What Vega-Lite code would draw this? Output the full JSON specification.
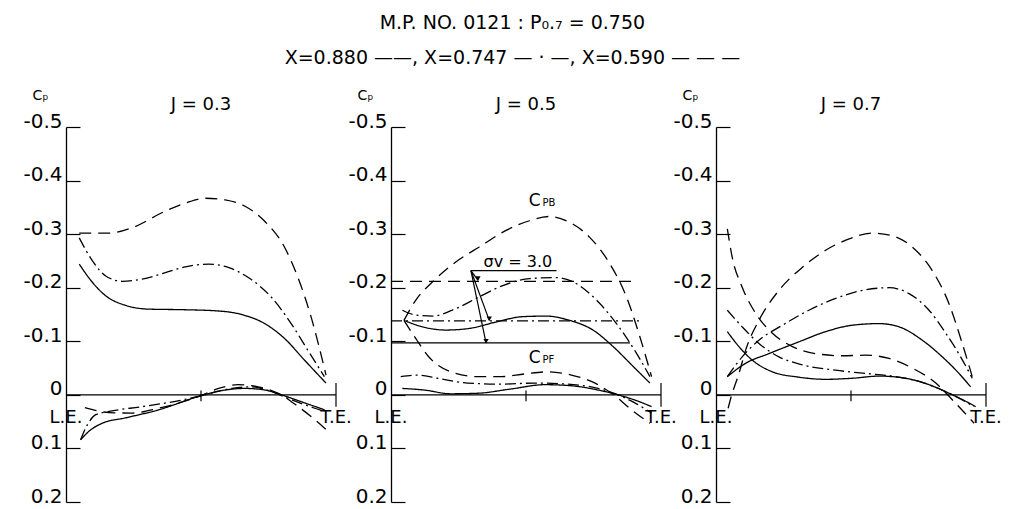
{
  "$schema": "https://vega.github.io/schema/vega-lite/v6.json",
  "padding": {"left": 22, "top": 14, "right": 0, "bottom": 0},
  "config": {"font": "DejaVu Sans", "view": {"stroke": null}},
  "title": {
    "text": "M.P. NO. 0121 : P₀.₇ = 0.750",
    "subtitle": "X=0.880 ——, X=0.747 — · —, X=0.590 — — —",
    "fontSize": 19, "fontWeight": "normal", "color": "black",
    "subtitleFontSize": 19, "subtitleColor": "black", "subtitlePadding": 16,
    "anchor": "middle", "offset": 20
  },
  "datasets": {
    "zero": [{"x": 0, "x2": 1, "cp": 0}],
    "zticks": [{"x": 0.5, "cp": -0.008, "cp2": 0.012}, {"x": 1, "cp": -0.022, "cp2": 0.022}],
    "edges": [{"x": 0, "cp": 0.052, "label": "L.E."}, {"x": 1, "cp": 0.052, "label": "T.E."}],
    "sigma": [
      {"X": "0.590", "x": 0, "x2": 0.897, "cp": -0.212},
      {"X": "0.747", "x": 0, "x2": 0.928, "cp": -0.138},
      {"X": "0.880", "x": 0, "x2": 0.885, "cp": -0.097}
    ],
    "underline": [{"x": 0.296, "x2": 0.613, "cp": -0.232}],
    "arrows": [
      {"x": 0.296, "cp": -0.232, "x2": 0.322, "cp2": -0.214},
      {"x": 0.296, "cp": -0.232, "x2": 0.364, "cp2": -0.139},
      {"x": 0.296, "cp": -0.232, "x2": 0.352, "cp2": -0.097}
    ],
    "heads": [
      {"x": 0.322, "cp": -0.217},
      {"x": 0.364, "cp": -0.142},
      {"x": 0.352, "cp": -0.100}
    ],
    "notes": [{"x": 0.47, "cp": -0.238, "label": "σv = 3.0"}],
    "clabels": [
      {"x": 0.554, "cp": -0.353, "main": "C", "sub": "PB"},
      {"x": 0.554, "cp": -0.059, "main": "C", "sub": "PF"}
    ],
    "curves": [
      {"J":0.3,"X":"0.590","side":"back","x":0.049,"cp":-0.302},
      {"J":0.3,"X":"0.590","side":"back","x":0.16,"cp":-0.302},
      {"J":0.3,"X":"0.590","side":"back","x":0.245,"cp":-0.312},
      {"J":0.3,"X":"0.590","side":"back","x":0.368,"cp":-0.343},
      {"J":0.3,"X":"0.590","side":"back","x":0.442,"cp":-0.358},
      {"J":0.3,"X":"0.590","side":"back","x":0.515,"cp":-0.367},
      {"J":0.3,"X":"0.590","side":"back","x":0.589,"cp":-0.364},
      {"J":0.3,"X":"0.590","side":"back","x":0.663,"cp":-0.352},
      {"J":0.3,"X":"0.590","side":"back","x":0.736,"cp":-0.324},
      {"J":0.3,"X":"0.590","side":"back","x":0.81,"cp":-0.275},
      {"J":0.3,"X":"0.590","side":"back","x":0.859,"cp":-0.219},
      {"J":0.3,"X":"0.590","side":"back","x":0.908,"cp":-0.145},
      {"J":0.3,"X":"0.590","side":"back","x":0.963,"cp":-0.037},

      {"J":0.3,"X":"0.747","side":"back","x":0.049,"cp":-0.293},
      {"J":0.3,"X":"0.747","side":"back","x":0.098,"cp":-0.25},
      {"J":0.3,"X":"0.747","side":"back","x":0.147,"cp":-0.222},
      {"J":0.3,"X":"0.747","side":"back","x":0.209,"cp":-0.212},
      {"J":0.3,"X":"0.747","side":"back","x":0.282,"cp":-0.216},
      {"J":0.3,"X":"0.747","side":"back","x":0.368,"cp":-0.228},
      {"J":0.3,"X":"0.747","side":"back","x":0.442,"cp":-0.239},
      {"J":0.3,"X":"0.747","side":"back","x":0.528,"cp":-0.244},
      {"J":0.3,"X":"0.747","side":"back","x":0.601,"cp":-0.238},
      {"J":0.3,"X":"0.747","side":"back","x":0.675,"cp":-0.219},
      {"J":0.3,"X":"0.747","side":"back","x":0.761,"cp":-0.182},
      {"J":0.3,"X":"0.747","side":"back","x":0.834,"cp":-0.133},
      {"J":0.3,"X":"0.747","side":"back","x":0.896,"cp":-0.083},
      {"J":0.3,"X":"0.747","side":"back","x":0.957,"cp":-0.034},

      {"J":0.3,"X":"0.880","side":"back","x":0.049,"cp":-0.244},
      {"J":0.3,"X":"0.880","side":"back","x":0.098,"cp":-0.21},
      {"J":0.3,"X":"0.880","side":"back","x":0.147,"cp":-0.185},
      {"J":0.3,"X":"0.880","side":"back","x":0.221,"cp":-0.167},
      {"J":0.3,"X":"0.880","side":"back","x":0.307,"cp":-0.16},
      {"J":0.3,"X":"0.880","side":"back","x":0.429,"cp":-0.159},
      {"J":0.3,"X":"0.880","side":"back","x":0.552,"cp":-0.157},
      {"J":0.3,"X":"0.880","side":"back","x":0.65,"cp":-0.15},
      {"J":0.3,"X":"0.880","side":"back","x":0.736,"cp":-0.133},
      {"J":0.3,"X":"0.880","side":"back","x":0.81,"cp":-0.105},
      {"J":0.3,"X":"0.880","side":"back","x":0.883,"cp":-0.065},
      {"J":0.3,"X":"0.880","side":"back","x":0.963,"cp":-0.022},

      {"J":0.3,"X":"0.880","side":"face","x":0.054,"cp":0.084},
      {"J":0.3,"X":"0.880","side":"face","x":0.085,"cp":0.068},
      {"J":0.3,"X":"0.880","side":"face","x":0.134,"cp":0.053},
      {"J":0.3,"X":"0.880","side":"face","x":0.22,"cp":0.043},
      {"J":0.3,"X":"0.880","side":"face","x":0.343,"cp":0.028},
      {"J":0.3,"X":"0.880","side":"face","x":0.491,"cp":0.003},
      {"J":0.3,"X":"0.880","side":"face","x":0.589,"cp":-0.009},
      {"J":0.3,"X":"0.880","side":"face","x":0.663,"cp":-0.012},
      {"J":0.3,"X":"0.880","side":"face","x":0.737,"cp":-0.009},
      {"J":0.3,"X":"0.880","side":"face","x":0.81,"cp":0.002},
      {"J":0.3,"X":"0.880","side":"face","x":0.884,"cp":0.015},
      {"J":0.3,"X":"0.880","side":"face","x":0.958,"cp":0.028},

      {"J":0.3,"X":"0.747","side":"face","x":0.054,"cp":0.084},
      {"J":0.3,"X":"0.747","side":"face","x":0.079,"cp":0.056},
      {"J":0.3,"X":"0.747","side":"face","x":0.11,"cp":0.037},
      {"J":0.3,"X":"0.747","side":"face","x":0.159,"cp":0.031},
      {"J":0.3,"X":"0.747","side":"face","x":0.282,"cp":0.022},
      {"J":0.3,"X":"0.747","side":"face","x":0.405,"cp":0.012},
      {"J":0.3,"X":"0.747","side":"face","x":0.491,"cp":0.003},
      {"J":0.3,"X":"0.747","side":"face","x":0.614,"cp":-0.012},
      {"J":0.3,"X":"0.747","side":"face","x":0.688,"cp":-0.015},
      {"J":0.3,"X":"0.747","side":"face","x":0.761,"cp":-0.006},
      {"J":0.3,"X":"0.747","side":"face","x":0.835,"cp":0.009},
      {"J":0.3,"X":"0.747","side":"face","x":0.921,"cp":0.025},
      {"J":0.3,"X":"0.747","side":"face","x":0.958,"cp":0.031},

      {"J":0.3,"X":"0.590","side":"face","x":0.07,"cp":0.024},
      {"J":0.3,"X":"0.590","side":"face","x":0.159,"cp":0.033},
      {"J":0.3,"X":"0.590","side":"face","x":0.245,"cp":0.034},
      {"J":0.3,"X":"0.590","side":"face","x":0.343,"cp":0.025},
      {"J":0.3,"X":"0.590","side":"face","x":0.491,"cp":0.003},
      {"J":0.3,"X":"0.590","side":"face","x":0.565,"cp":-0.012},
      {"J":0.3,"X":"0.590","side":"face","x":0.638,"cp":-0.019},
      {"J":0.3,"X":"0.590","side":"face","x":0.712,"cp":-0.015},
      {"J":0.3,"X":"0.590","side":"face","x":0.786,"cp":-0.003},
      {"J":0.3,"X":"0.590","side":"face","x":0.86,"cp":0.022},
      {"J":0.3,"X":"0.590","side":"face","x":0.921,"cp":0.046},
      {"J":0.3,"X":"0.590","side":"face","x":0.97,"cp":0.068},

      {"J":0.5,"X":"0.590","side":"back","x":0.048,"cp":-0.139},
      {"J":0.5,"X":"0.590","side":"back","x":0.092,"cp":-0.177},
      {"J":0.5,"X":"0.590","side":"back","x":0.154,"cp":-0.211},
      {"J":0.5,"X":"0.590","side":"back","x":0.24,"cp":-0.248},
      {"J":0.5,"X":"0.590","side":"back","x":0.327,"cp":-0.276},
      {"J":0.5,"X":"0.590","side":"back","x":0.426,"cp":-0.307},
      {"J":0.5,"X":"0.590","side":"back","x":0.513,"cp":-0.325},
      {"J":0.5,"X":"0.590","side":"back","x":0.587,"cp":-0.333},
      {"J":0.5,"X":"0.590","side":"back","x":0.662,"cp":-0.322},
      {"J":0.5,"X":"0.590","side":"back","x":0.736,"cp":-0.294},
      {"J":0.5,"X":"0.590","side":"back","x":0.81,"cp":-0.245},
      {"J":0.5,"X":"0.590","side":"back","x":0.872,"cp":-0.183},
      {"J":0.5,"X":"0.590","side":"back","x":0.922,"cp":-0.108},
      {"J":0.5,"X":"0.590","side":"back","x":0.965,"cp":-0.034},

      {"J":0.5,"X":"0.747","side":"back","x":0.042,"cp":-0.158},
      {"J":0.5,"X":"0.747","side":"back","x":0.092,"cp":-0.149},
      {"J":0.5,"X":"0.747","side":"back","x":0.154,"cp":-0.147},
      {"J":0.5,"X":"0.747","side":"back","x":0.24,"cp":-0.161},
      {"J":0.5,"X":"0.747","side":"back","x":0.327,"cp":-0.183},
      {"J":0.5,"X":"0.747","side":"back","x":0.414,"cp":-0.204},
      {"J":0.5,"X":"0.747","side":"back","x":0.513,"cp":-0.217},
      {"J":0.5,"X":"0.747","side":"back","x":0.612,"cp":-0.219},
      {"J":0.5,"X":"0.747","side":"back","x":0.674,"cp":-0.211},
      {"J":0.5,"X":"0.747","side":"back","x":0.761,"cp":-0.177},
      {"J":0.5,"X":"0.747","side":"back","x":0.835,"cp":-0.133},
      {"J":0.5,"X":"0.747","side":"back","x":0.91,"cp":-0.077},
      {"J":0.5,"X":"0.747","side":"back","x":0.959,"cp":-0.034},

      {"J":0.5,"X":"0.880","side":"back","x":0.048,"cp":-0.139},
      {"J":0.5,"X":"0.880","side":"back","x":0.116,"cp":-0.127},
      {"J":0.5,"X":"0.880","side":"back","x":0.203,"cp":-0.121},
      {"J":0.5,"X":"0.880","side":"back","x":0.29,"cp":-0.124},
      {"J":0.5,"X":"0.880","side":"back","x":0.389,"cp":-0.136},
      {"J":0.5,"X":"0.880","side":"back","x":0.488,"cp":-0.146},
      {"J":0.5,"X":"0.880","side":"back","x":0.575,"cp":-0.147},
      {"J":0.5,"X":"0.880","side":"back","x":0.662,"cp":-0.139},
      {"J":0.5,"X":"0.880","side":"back","x":0.748,"cp":-0.121},
      {"J":0.5,"X":"0.880","side":"back","x":0.823,"cp":-0.09},
      {"J":0.5,"X":"0.880","side":"back","x":0.897,"cp":-0.053},
      {"J":0.5,"X":"0.880","side":"back","x":0.959,"cp":-0.022},

      {"J":0.5,"X":"0.590","side":"face","x":0.048,"cp":-0.139},
      {"J":0.5,"X":"0.590","side":"face","x":0.092,"cp":-0.105},
      {"J":0.5,"X":"0.590","side":"face","x":0.138,"cp":-0.072},
      {"J":0.5,"X":"0.590","side":"face","x":0.222,"cp":-0.043},
      {"J":0.5,"X":"0.590","side":"face","x":0.321,"cp":-0.034},
      {"J":0.5,"X":"0.590","side":"face","x":0.408,"cp":-0.034},
      {"J":0.5,"X":"0.590","side":"face","x":0.494,"cp":-0.039},
      {"J":0.5,"X":"0.590","side":"face","x":0.581,"cp":-0.043},
      {"J":0.5,"X":"0.590","side":"face","x":0.668,"cp":-0.037},
      {"J":0.5,"X":"0.590","side":"face","x":0.742,"cp":-0.025},
      {"J":0.5,"X":"0.590","side":"face","x":0.817,"cp":-0.003},
      {"J":0.5,"X":"0.590","side":"face","x":0.891,"cp":0.028},
      {"J":0.5,"X":"0.590","side":"face","x":0.959,"cp":0.053},

      {"J":0.5,"X":"0.747","side":"face","x":0.036,"cp":-0.034},
      {"J":0.5,"X":"0.747","side":"face","x":0.098,"cp":-0.037},
      {"J":0.5,"X":"0.747","side":"face","x":0.172,"cp":-0.031},
      {"J":0.5,"X":"0.747","side":"face","x":0.284,"cp":-0.022},
      {"J":0.5,"X":"0.747","side":"face","x":0.408,"cp":-0.02},
      {"J":0.5,"X":"0.747","side":"face","x":0.532,"cp":-0.022},
      {"J":0.5,"X":"0.747","side":"face","x":0.655,"cp":-0.02},
      {"J":0.5,"X":"0.747","side":"face","x":0.767,"cp":-0.012},
      {"J":0.5,"X":"0.747","side":"face","x":0.841,"cp":0.0},
      {"J":0.5,"X":"0.747","side":"face","x":0.903,"cp":0.015},
      {"J":0.5,"X":"0.747","side":"face","x":0.965,"cp":0.034},

      {"J":0.5,"X":"0.880","side":"face","x":0.042,"cp":-0.012},
      {"J":0.5,"X":"0.880","side":"face","x":0.123,"cp":-0.009},
      {"J":0.5,"X":"0.880","side":"face","x":0.222,"cp":-0.002},
      {"J":0.5,"X":"0.880","side":"face","x":0.321,"cp":-0.003},
      {"J":0.5,"X":"0.880","side":"face","x":0.445,"cp":-0.011},
      {"J":0.5,"X":"0.880","side":"face","x":0.569,"cp":-0.019},
      {"J":0.5,"X":"0.880","side":"face","x":0.668,"cp":-0.017},
      {"J":0.5,"X":"0.880","side":"face","x":0.767,"cp":-0.009},
      {"J":0.5,"X":"0.880","side":"face","x":0.841,"cp":0.0},
      {"J":0.5,"X":"0.880","side":"face","x":0.916,"cp":0.012},
      {"J":0.5,"X":"0.880","side":"face","x":0.965,"cp":0.022},

      {"J":0.7,"X":"0.590","side":"back","x":0.045,"cp":0.025},
      {"J":0.7,"X":"0.590","side":"back","x":0.06,"cp":-0.003},
      {"J":0.7,"X":"0.590","side":"back","x":0.073,"cp":-0.022},
      {"J":0.7,"X":"0.590","side":"back","x":0.085,"cp":-0.04},
      {"J":0.7,"X":"0.590","side":"back","x":0.11,"cp":-0.084},
      {"J":0.7,"X":"0.590","side":"back","x":0.159,"cp":-0.139},
      {"J":0.7,"X":"0.590","side":"back","x":0.233,"cp":-0.195},
      {"J":0.7,"X":"0.590","side":"back","x":0.32,"cp":-0.238},
      {"J":0.7,"X":"0.590","side":"back","x":0.406,"cp":-0.27},
      {"J":0.7,"X":"0.590","side":"back","x":0.493,"cp":-0.291},
      {"J":0.7,"X":"0.590","side":"back","x":0.579,"cp":-0.302},
      {"J":0.7,"X":"0.590","side":"back","x":0.653,"cp":-0.297},
      {"J":0.7,"X":"0.590","side":"back","x":0.727,"cp":-0.276},
      {"J":0.7,"X":"0.590","side":"back","x":0.801,"cp":-0.232},
      {"J":0.7,"X":"0.590","side":"back","x":0.863,"cp":-0.17},
      {"J":0.7,"X":"0.590","side":"back","x":0.912,"cp":-0.096},
      {"J":0.7,"X":"0.590","side":"back","x":0.949,"cp":-0.034},

      {"J":0.7,"X":"0.747","side":"back","x":0.042,"cp":-0.034},
      {"J":0.7,"X":"0.747","side":"back","x":0.097,"cp":-0.071},
      {"J":0.7,"X":"0.747","side":"back","x":0.159,"cp":-0.102},
      {"J":0.7,"X":"0.747","side":"back","x":0.246,"cp":-0.13},
      {"J":0.7,"X":"0.747","side":"back","x":0.344,"cp":-0.158},
      {"J":0.7,"X":"0.747","side":"back","x":0.443,"cp":-0.18},
      {"J":0.7,"X":"0.747","side":"back","x":0.542,"cp":-0.195},
      {"J":0.7,"X":"0.747","side":"back","x":0.641,"cp":-0.2},
      {"J":0.7,"X":"0.747","side":"back","x":0.715,"cp":-0.189},
      {"J":0.7,"X":"0.747","side":"back","x":0.789,"cp":-0.158},
      {"J":0.7,"X":"0.747","side":"back","x":0.851,"cp":-0.115},
      {"J":0.7,"X":"0.747","side":"back","x":0.906,"cp":-0.071},
      {"J":0.7,"X":"0.747","side":"back","x":0.949,"cp":-0.031},

      {"J":0.7,"X":"0.880","side":"back","x":0.042,"cp":-0.034},
      {"J":0.7,"X":"0.880","side":"back","x":0.11,"cp":-0.059},
      {"J":0.7,"X":"0.880","side":"back","x":0.196,"cp":-0.077},
      {"J":0.7,"X":"0.880","side":"back","x":0.307,"cp":-0.099},
      {"J":0.7,"X":"0.880","side":"back","x":0.406,"cp":-0.118},
      {"J":0.7,"X":"0.880","side":"back","x":0.505,"cp":-0.13},
      {"J":0.7,"X":"0.880","side":"back","x":0.604,"cp":-0.133},
      {"J":0.7,"X":"0.880","side":"back","x":0.678,"cp":-0.127},
      {"J":0.7,"X":"0.880","side":"back","x":0.764,"cp":-0.102},
      {"J":0.7,"X":"0.880","side":"back","x":0.838,"cp":-0.071},
      {"J":0.7,"X":"0.880","side":"back","x":0.9,"cp":-0.04},
      {"J":0.7,"X":"0.880","side":"back","x":0.943,"cp":-0.015},

      {"J":0.7,"X":"0.590","side":"face","x":0.042,"cp":-0.31},
      {"J":0.7,"X":"0.590","side":"face","x":0.06,"cp":-0.257},
      {"J":0.7,"X":"0.590","side":"face","x":0.097,"cp":-0.201},
      {"J":0.7,"X":"0.590","side":"face","x":0.147,"cp":-0.152},
      {"J":0.7,"X":"0.590","side":"face","x":0.209,"cp":-0.115},
      {"J":0.7,"X":"0.590","side":"face","x":0.283,"cp":-0.09},
      {"J":0.7,"X":"0.590","side":"face","x":0.369,"cp":-0.077},
      {"J":0.7,"X":"0.590","side":"face","x":0.468,"cp":-0.073},
      {"J":0.7,"X":"0.590","side":"face","x":0.554,"cp":-0.074},
      {"J":0.7,"X":"0.590","side":"face","x":0.641,"cp":-0.068},
      {"J":0.7,"X":"0.590","side":"face","x":0.727,"cp":-0.05},
      {"J":0.7,"X":"0.590","side":"face","x":0.814,"cp":-0.022},
      {"J":0.7,"X":"0.590","side":"face","x":0.875,"cp":0.009},
      {"J":0.7,"X":"0.590","side":"face","x":0.956,"cp":0.053},

      {"J":0.7,"X":"0.747","side":"face","x":0.042,"cp":-0.158},
      {"J":0.7,"X":"0.747","side":"face","x":0.097,"cp":-0.127},
      {"J":0.7,"X":"0.747","side":"face","x":0.159,"cp":-0.096},
      {"J":0.7,"X":"0.747","side":"face","x":0.233,"cp":-0.071},
      {"J":0.7,"X":"0.747","side":"face","x":0.32,"cp":-0.056},
      {"J":0.7,"X":"0.747","side":"face","x":0.443,"cp":-0.046},
      {"J":0.7,"X":"0.747","side":"face","x":0.554,"cp":-0.04},
      {"J":0.7,"X":"0.747","side":"face","x":0.653,"cp":-0.035},
      {"J":0.7,"X":"0.747","side":"face","x":0.752,"cp":-0.025},
      {"J":0.7,"X":"0.747","side":"face","x":0.838,"cp":-0.009},
      {"J":0.7,"X":"0.747","side":"face","x":0.9,"cp":0.006},
      {"J":0.7,"X":"0.747","side":"face","x":0.956,"cp":0.022},

      {"J":0.7,"X":"0.880","side":"face","x":0.042,"cp":-0.118},
      {"J":0.7,"X":"0.880","side":"face","x":0.085,"cp":-0.09},
      {"J":0.7,"X":"0.880","side":"face","x":0.134,"cp":-0.065},
      {"J":0.7,"X":"0.880","side":"face","x":0.209,"cp":-0.043},
      {"J":0.7,"X":"0.880","side":"face","x":0.307,"cp":-0.033},
      {"J":0.7,"X":"0.880","side":"face","x":0.406,"cp":-0.029},
      {"J":0.7,"X":"0.880","side":"face","x":0.505,"cp":-0.031},
      {"J":0.7,"X":"0.880","side":"face","x":0.604,"cp":-0.035},
      {"J":0.7,"X":"0.880","side":"face","x":0.702,"cp":-0.031},
      {"J":0.7,"X":"0.880","side":"face","x":0.789,"cp":-0.019},
      {"J":0.7,"X":"0.880","side":"face","x":0.863,"cp":-0.003},
      {"J":0.7,"X":"0.880","side":"face","x":0.925,"cp":0.012},
      {"J":0.7,"X":"0.880","side":"face","x":0.962,"cp":0.022}
    ]
  },
  "spacing": 55,
  "bounds": "flush",
  "hconcat": [
    {
      "width": 270, "height": 375,
      "title": {"text": "J = 0.3", "fontSize": 18, "fontWeight": "normal", "color": "black", "offset": -26},
      "encoding": {
        "x": {"field": "x", "type": "quantitative", "scale": {"domain": [0, 1], "nice": false, "zero": false}, "axis": null},
        "y": {"field": "cp", "type": "quantitative", "scale": {"domain": [-0.5, 0.2], "reverse": true, "nice": false, "zero": false},
          "axis": {"values": [-0.5, -0.4, -0.3, -0.2, -0.1, 0, 0.1, 0.2], "labelExpr": "datum.value == 0 ? '0' : (datum.value < 0 ? '-' : '') + format(abs(datum.value), '.1f')",
            "grid": false, "tickSize": -14, "labelPadding": 18, "labelBaseline": "alphabetic", "labelFontSize": 20, "labelColor": "black", "labelFlush": false, "labelOverlap": false,
            "domainColor": "black", "domainWidth": 1.3, "tickColor": "black", "tickWidth": 1.2,
            "title": "Cₚ", "titleAngle": 0, "titleX": -26, "titleY": -28, "titleAlign": "center", "titleBaseline": "alphabetic", "titleFontSize": 14, "titleFontWeight": "normal", "titleColor": "black"}}
      },
      "layer": [
        {"data": {"name": "zero"}, "mark": {"type": "rule", "color": "black", "strokeWidth": 1.2}, "encoding": {"x2": {"field": "x2"}}},
        {"data": {"name": "zticks"}, "mark": {"type": "rule", "color": "black", "strokeWidth": 1.2}, "encoding": {"y2": {"field": "cp2"}}},
        {"data": {"name": "curves"}, "transform": [{"filter": "datum.J == 0.3"}],
          "mark": {"type": "line", "interpolate": "monotone", "color": "black", "strokeWidth": 1.3},
          "encoding": {"strokeDash": {"field": "X", "type": "nominal", "scale": {"domain": ["0.880", "0.747", "0.590"], "range": [[1, 0], [11, 4, 2, 4], [12, 7]]}, "legend": null}, "detail": {"field": "side"}}},
        {"data": {"name": "edges"}, "mark": {"type": "text", "fontSize": 18, "align": "center", "baseline": "alphabetic", "color": "black"}, "encoding": {"text": {"field": "label"}}}
      ]
    },
    {
      "width": 270, "height": 375,
      "title": {"text": "J = 0.5", "fontSize": 18, "fontWeight": "normal", "color": "black", "offset": -26},
      "encoding": {
        "x": {"field": "x", "type": "quantitative", "scale": {"domain": [0, 1], "nice": false, "zero": false}, "axis": null},
        "y": {"field": "cp", "type": "quantitative", "scale": {"domain": [-0.5, 0.2], "reverse": true, "nice": false, "zero": false},
          "axis": {"values": [-0.5, -0.4, -0.3, -0.2, -0.1, 0, 0.1, 0.2], "labelExpr": "datum.value == 0 ? '0' : (datum.value < 0 ? '-' : '') + format(abs(datum.value), '.1f')",
            "grid": false, "tickSize": -14, "labelPadding": 18, "labelBaseline": "alphabetic", "labelFontSize": 20, "labelColor": "black", "labelFlush": false, "labelOverlap": false,
            "domainColor": "black", "domainWidth": 1.3, "tickColor": "black", "tickWidth": 1.2,
            "title": "Cₚ", "titleAngle": 0, "titleX": -26, "titleY": -28, "titleAlign": "center", "titleBaseline": "alphabetic", "titleFontSize": 14, "titleFontWeight": "normal", "titleColor": "black"}}
      },
      "layer": [
        {"data": {"name": "zero"}, "mark": {"type": "rule", "color": "black", "strokeWidth": 1.2}, "encoding": {"x2": {"field": "x2"}}},
        {"data": {"name": "zticks"}, "mark": {"type": "rule", "color": "black", "strokeWidth": 1.2}, "encoding": {"y2": {"field": "cp2"}}},
        {"data": {"name": "sigma"}, "mark": {"type": "rule", "color": "black", "strokeWidth": 1.2},
          "encoding": {"x2": {"field": "x2"}, "strokeDash": {"field": "X", "type": "nominal", "scale": {"domain": ["0.880", "0.747", "0.590"], "range": [[1, 0], [11, 4, 2, 4], [12, 7]]}, "legend": null}}},
        {"data": {"name": "curves"}, "transform": [{"filter": "datum.J == 0.5"}],
          "mark": {"type": "line", "interpolate": "monotone", "color": "black", "strokeWidth": 1.3},
          "encoding": {"strokeDash": {"field": "X", "type": "nominal", "scale": {"domain": ["0.880", "0.747", "0.590"], "range": [[1, 0], [11, 4, 2, 4], [12, 7]]}, "legend": null}, "detail": {"field": "side"}}},
        {"data": {"name": "underline"}, "mark": {"type": "rule", "color": "black", "strokeWidth": 1.2}, "encoding": {"x2": {"field": "x2"}}},
        {"data": {"name": "arrows"}, "mark": {"type": "rule", "color": "black", "strokeWidth": 1.2}, "encoding": {"x2": {"field": "x2"}, "y2": {"field": "cp2"}}},
        {"data": {"name": "heads"}, "mark": {"type": "point", "shape": "triangle-down", "size": 28, "filled": true, "color": "black", "opacity": 1}},
        {"data": {"name": "notes"}, "mark": {"type": "text", "fontSize": 16, "align": "center", "baseline": "alphabetic", "color": "black"}, "encoding": {"text": {"field": "label"}}},
        {"data": {"name": "clabels"}, "mark": {"type": "text", "fontSize": 17, "align": "right", "baseline": "alphabetic", "color": "black"}, "encoding": {"text": {"field": "main"}}},
        {"data": {"name": "clabels"}, "mark": {"type": "text", "fontSize": 10, "align": "left", "baseline": "alphabetic", "dx": 2, "color": "black"}, "encoding": {"text": {"field": "sub"}}},
        {"data": {"name": "edges"}, "mark": {"type": "text", "fontSize": 18, "align": "center", "baseline": "alphabetic", "color": "black"}, "encoding": {"text": {"field": "label"}}}
      ]
    },
    {
      "width": 270, "height": 375,
      "title": {"text": "J = 0.7", "fontSize": 18, "fontWeight": "normal", "color": "black", "offset": -26},
      "encoding": {
        "x": {"field": "x", "type": "quantitative", "scale": {"domain": [0, 1], "nice": false, "zero": false}, "axis": null},
        "y": {"field": "cp", "type": "quantitative", "scale": {"domain": [-0.5, 0.2], "reverse": true, "nice": false, "zero": false},
          "axis": {"values": [-0.5, -0.4, -0.3, -0.2, -0.1, 0, 0.1, 0.2], "labelExpr": "datum.value == 0 ? '0' : (datum.value < 0 ? '-' : '') + format(abs(datum.value), '.1f')",
            "grid": false, "tickSize": -14, "labelPadding": 18, "labelBaseline": "alphabetic", "labelFontSize": 20, "labelColor": "black", "labelFlush": false, "labelOverlap": false,
            "domainColor": "black", "domainWidth": 1.3, "tickColor": "black", "tickWidth": 1.2,
            "title": "Cₚ", "titleAngle": 0, "titleX": -26, "titleY": -28, "titleAlign": "center", "titleBaseline": "alphabetic", "titleFontSize": 14, "titleFontWeight": "normal", "titleColor": "black"}}
      },
      "layer": [
        {"data": {"name": "zero"}, "mark": {"type": "rule", "color": "black", "strokeWidth": 1.2}, "encoding": {"x2": {"field": "x2"}}},
        {"data": {"name": "zticks"}, "mark": {"type": "rule", "color": "black", "strokeWidth": 1.2}, "encoding": {"y2": {"field": "cp2"}}},
        {"data": {"name": "curves"}, "transform": [{"filter": "datum.J == 0.7"}],
          "mark": {"type": "line", "interpolate": "monotone", "color": "black", "strokeWidth": 1.3},
          "encoding": {"strokeDash": {"field": "X", "type": "nominal", "scale": {"domain": ["0.880", "0.747", "0.590"], "range": [[1, 0], [11, 4, 2, 4], [12, 7]]}, "legend": null}, "detail": {"field": "side"}}},
        {"data": {"name": "edges"}, "mark": {"type": "text", "fontSize": 18, "align": "center", "baseline": "alphabetic", "color": "black"}, "encoding": {"text": {"field": "label"}}}
      ]
    }
  ]
}
